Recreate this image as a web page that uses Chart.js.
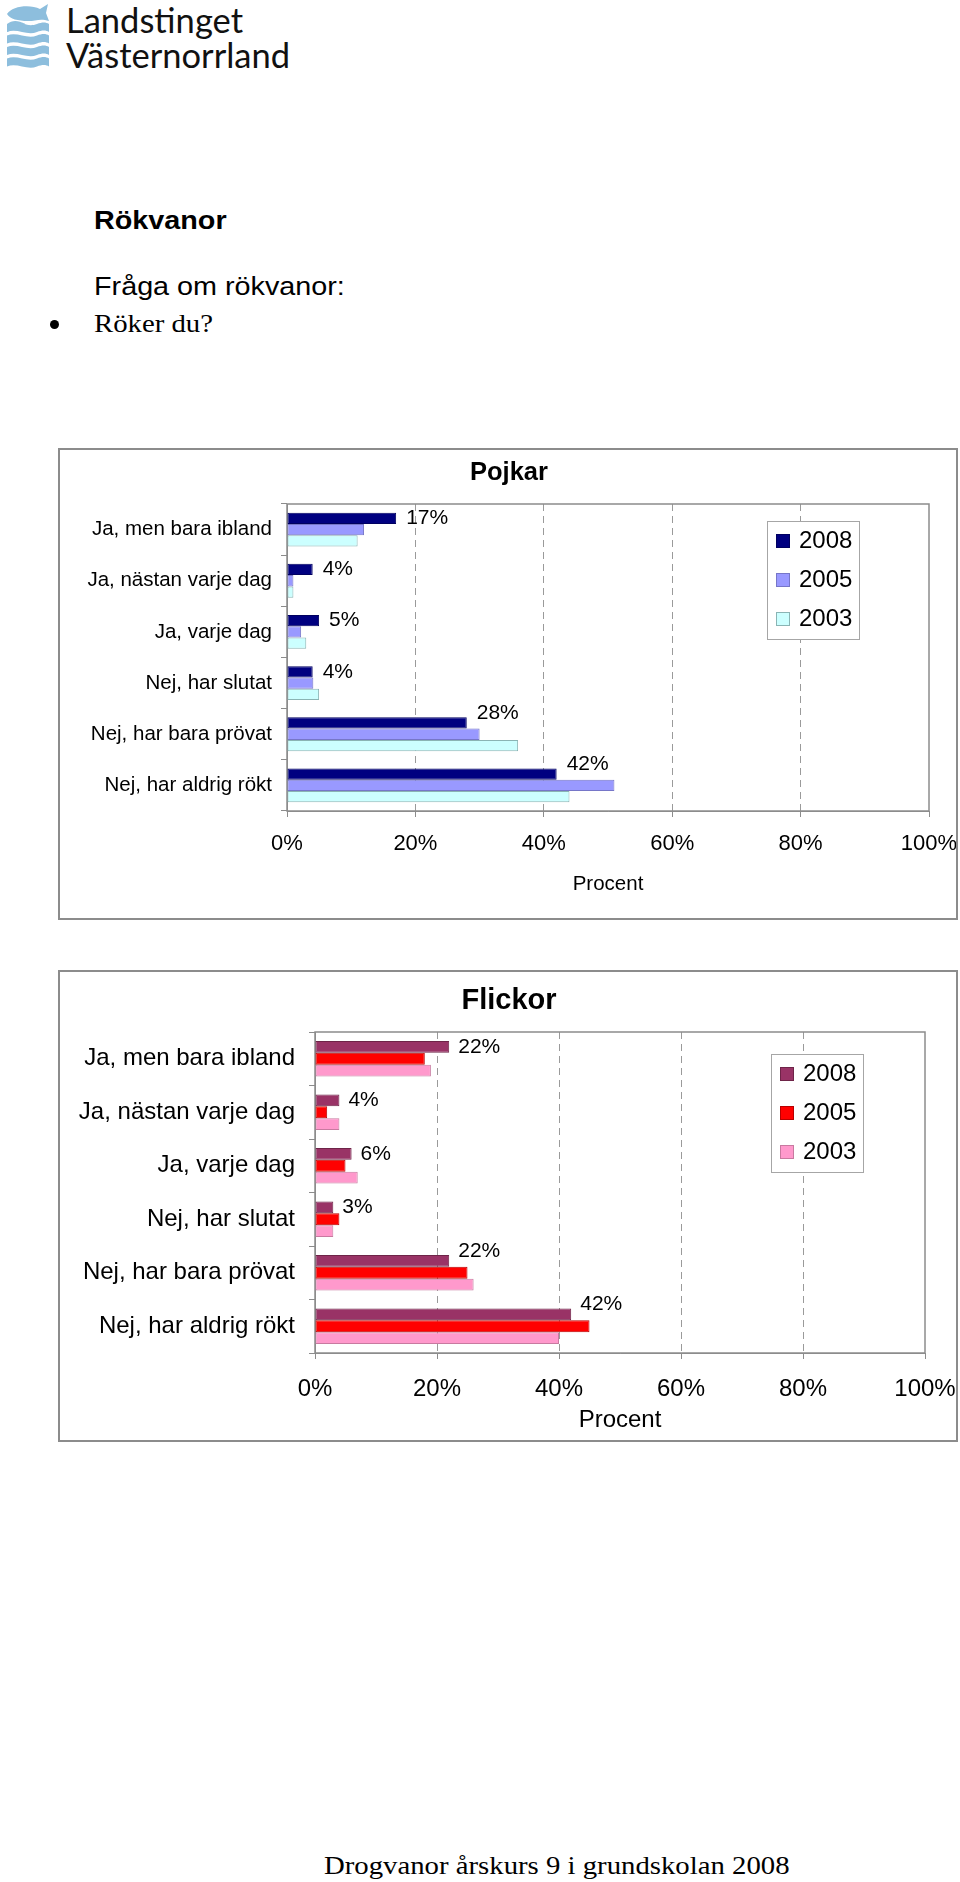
<!DOCTYPE html>
<html lang="sv">
<head>
<meta charset="utf-8">
<title>Rökvanor</title>
<script src="https://cdn.jsdelivr.net/npm/chart.js@4.4.0/dist/chart.umd.min.js"></script>
<style>
  html, body { margin: 0; padding: 0; background: #fff; }
  body { width: 960px; height: 1882px; position: relative; overflow: hidden; font-family: "Liberation Sans", Arial, sans-serif; color: #000; }
  .abs { position: absolute; white-space: nowrap; }
  .wide { transform: scaleX(1.15); transform-origin: 0 0; }
  .logo-text { font-family: Lato, "Open Sans", sans-serif; font-size: 34.5px; line-height: 34.5px; color: #111; left: 66px; }
  .chart-box { position: absolute; left: 58px; width: 896px; height: 468px; border: 2px solid #8c8c8c; }
  .chart-box canvas { display: block; }
  .bullet { position: absolute; width: 9px; height: 9px; border-radius: 50%; background: #000; }
</style>
</head>
<body>

<svg class="abs" style="left:0;top:0" width="60" height="72" viewBox="0 0 60 72">
  <g fill="#8dbedd">
    <path d="M25,24 C17,20 27,28 37,24 C42,22 46,22 49,24 L49,32 C46,30 42,30 37,32 C27,36 17,28 7,32 L7,24 Z"/>
    <path d="M7,35.5 C17,31.5 27,39.5 37,35.5 C42,33.5 46,33.5 49,35.5 L49,43.5 C46,41.5 42,41.5 37,43.5 C27,47.5 17,39.5 7,43.5 Z"/>
    <path d="M7,47 C17,43 27,51 37,47 C42,45 46,45 49,47 L49,55 C46,53 42,53 37,55 C27,59 17,51 7,55 Z"/>
    <path d="M7,58.5 C17,54.5 27,62.5 37,58.5 C42,56.5 46,56.5 49,58.5 L49,66.5 C46,64.5 42,64.5 37,66.5 C27,70.5 17,62.5 7,66.5 Z"/>
    <path d="M7,24 C12,20 18,20 25,24 L7,32 Z"/>
    <path d="M7,14 C12,6 30,4 40,9 L48,4 L46,13 L49,21 C40,18 36,21 28,21 C18,21 10,19 7,14 Z"/>
  </g>
</svg>
<div class="abs logo-text" style="top:3px">Landstinget</div>
<div class="abs logo-text" style="top:38px">Västernorrland</div>

<div class="abs wide" style="left:94px;top:208px;font-weight:bold;font-size:25px;line-height:25px">Rökvanor</div>
<div class="abs wide" style="left:94px;top:274px;font-size:25px;line-height:25px">Fråga om rökvanor:</div>
<div class="bullet" style="left:50px;top:320px"></div>
<div class="abs wide" style="left:94px;top:311px;font-family:'Liberation Serif','Times New Roman',serif;font-size:25px;line-height:25px">Röker du?</div>

<div class="chart-box" style="top:448px"><canvas id="pojkar" width="896" height="468"></canvas></div>
<div class="chart-box" style="top:970px"><canvas id="flickor" width="896" height="468"></canvas></div>

<div class="abs wide" style="left:324px;top:1853px;font-family:'Liberation Serif','Times New Roman',serif;font-size:25px;line-height:25px">Drogvanor årskurs 9 i grundskolan 2008</div>

<script>
const categories = ['Ja, men bara ibland', 'Ja, nästan varje dag', 'Ja, varje dag', 'Nej, har slutat', 'Nej, har bara prövat', 'Nej, har aldrig rökt'];
const years = ['2008', '2005', '2003'];
const xTicks = [0, 20, 40, 60, 80, 100];

// Pojkar, procent
const pojkar2008 = [17, 4, 5, 4, 28, 42];
const pojkar2005 = [12, 1, 2.2, 4.1, 30, 51];
const pojkar2003 = [11, 1, 3, 5, 36, 44];

// Flickor, procent
const flickor2008 = [22, 4, 6, 3, 22, 42];
const flickor2005 = [18, 2, 5, 4, 25, 45];
const flickor2003 = [19, 4, 7, 3, 26, 40];

const FONT = '"Liberation Sans", Arial, sans-serif';

// rubrik mitt över hela rutan
const boxTitle = {
  id: 'boxTitle',
  afterDraw(chart, args, opts) {
    const ctx = chart.ctx;
    ctx.save();
    ctx.font = 'bold ' + opts.size + 'px ' + FONT;
    ctx.fillStyle = '#000';
    ctx.textAlign = 'center';
    ctx.textBaseline = 'middle';
    ctx.fillText(opts.text, chart.width / 2 + 1, opts.y);
    ctx.restore();
  }
};

// ram runt diagramytan
const frame = {
  id: 'frame',
  beforeDatasetsDraw(chart) {
    const a = chart.chartArea, ctx = chart.ctx;
    ctx.save();
    ctx.strokeStyle = '#8c8c8c';
    ctx.lineWidth = 1.5;
    ctx.strokeRect(a.left, a.top, a.right - a.left, a.bottom - a.top);
    ctx.restore();
  }
};

// etiketter för 2008
const valueLabels = {
  id: 'valueLabels',
  afterDatasetsDraw(chart, args, opts) {
    const ctx = chart.ctx;
    const first = chart.getDatasetMeta(0), next = chart.getDatasetMeta(1);
    ctx.save();
    ctx.font = opts.size + 'px ' + FONT;
    ctx.fillStyle = '#000';
    ctx.textBaseline = 'middle';
    first.data.forEach((bar, i) => {
      const x = bar.x + opts.gap;
      let y = bar.y;
      if (next.data[i].x > x - 2) y -= 10; // flytta upp om nästa stapel är i vägen
      ctx.fillText(chart.data.datasets[0].data[i] + '%', x, y);
    });
    ctx.restore();
  }
};

// förklaring inne i diagramytan
const boxLegend = {
  id: 'boxLegend',
  afterDraw(chart, args, opts) {
    const a = chart.chartArea, ctx = chart.ctx;
    const w = 92, h = 118, row = 39;
    const left = a.right - opts.right - w, top = a.top + opts.top;
    ctx.save();
    ctx.fillStyle = '#fff';
    ctx.fillRect(left, top, w, h);
    ctx.strokeStyle = '#a6a6a6';
    ctx.lineWidth = 1;
    ctx.strokeRect(left + 0.5, top + 0.5, w, h);
    ctx.font = '24px ' + FONT;
    ctx.textBaseline = 'middle';
    chart.data.datasets.forEach((ds, i) => {
      const cy = top + 20 + i * row;
      ctx.fillStyle = ds.backgroundColor;
      ctx.fillRect(left + 9, cy - 7, 14, 14);
      ctx.strokeStyle = ds.borderColor;
      ctx.strokeRect(left + 9.5, cy - 6.5, 13, 13);
      ctx.fillStyle = '#000';
      ctx.fillText(ds.label, left + 32, cy);
    });
    ctx.restore();
  }
};

function barChart(id, title, series, colors, borders, look) {
  const font = { family: FONT, size: look.fontSize };
  const tickFont = { family: FONT, size: look.tickSize };
  return new Chart(document.getElementById(id), {
    type: 'bar',
    data: {
      labels: categories,
      datasets: series.map((data, i) => ({
        label: years[i],
        data: data,
        backgroundColor: colors[i],
        borderColor: borders[i],
        borderWidth: 1,
        borderSkipped: false,
        categoryPercentage: 0.66,
        barPercentage: 1
      }))
    },
    options: {
      indexAxis: 'y',
      responsive: false,
      animation: false,
      devicePixelRatio: 1,
      layout: { padding: look.padding },
      plugins: {
        legend: { display: false },
        tooltip: { enabled: false },
        title: { display: false },
        boxTitle: { text: title, size: look.titleSize, y: look.titleY },
        boxLegend: look.legend,
        valueLabels: { size: look.valueSize, gap: look.valueGap }
      },
      scales: {
        x: {
          min: 0, max: 100,
          afterBuildTicks: s => { s.ticks = xTicks.map(v => ({ value: v })); },
          afterFit: s => { s.paddingLeft = 0; s.paddingRight = 0; },
          ticks: { callback: v => v + '%', color: '#000', padding: look.xPad, font: tickFont },
          grid: {
            color: c => (c.tick && (c.tick.value === 0 || c.tick.value === 100)) ? 'rgba(0,0,0,0)' : '#9a9a9a',
            tickColor: '#8c8c8c', tickLength: 6, tickBorderDash: []
          },
          border: { color: '#8c8c8c', dash: [7, 5] },
          title: {
            display: true, text: 'Procent', color: '#000', font: font,
            padding: { top: look.xTitleTop, bottom: 0 }
          }
        },
        y: {
          afterFit: s => { s.width = look.yWidth; },
          ticks: { color: '#000', padding: look.yPad, font: font },
          grid: { drawOnChartArea: false, tickColor: '#8c8c8c', tickLength: 6 },
          border: { color: '#8c8c8c' }
        }
      }
    },
    plugins: [frame, valueLabels, boxLegend, boxTitle]
  });
}

barChart('pojkar', 'Pojkar', [pojkar2008, pojkar2005, pojkar2003],
  ['#000080', '#9999ff', '#ccffff'], ['#000060', '#7676c8', '#8ab4b4'],
  {
    fontSize: 20.5, tickSize: 22, titleSize: 25.5, titleY: 23, valueSize: 21, valueGap: 10,
    yWidth: 227, yPad: 9, xPad: 13.8, xTitleTop: 0.7,
    padding: { top: 54, right: 27, bottom: 21.7, left: 0 },
    legend: { right: 70, top: 17 }
  });

barChart('flickor', 'Flickor', [flickor2008, flickor2005, flickor2003],
  ['#993366', '#ff0000', '#ff99cc'], ['#6e2448', '#b80000', '#c87aa0'],
  {
    fontSize: 24, tickSize: 24, titleSize: 29, titleY: 29, valueSize: 21, valueGap: 9,
    yWidth: 255, yPad: 14, xPad: 15.6, xTitleTop: -13.4,
    padding: { top: 60, right: 31, bottom: 5.6, left: 0 },
    legend: { right: 62, top: 22 }
  });
</script>
</body>
</html>
